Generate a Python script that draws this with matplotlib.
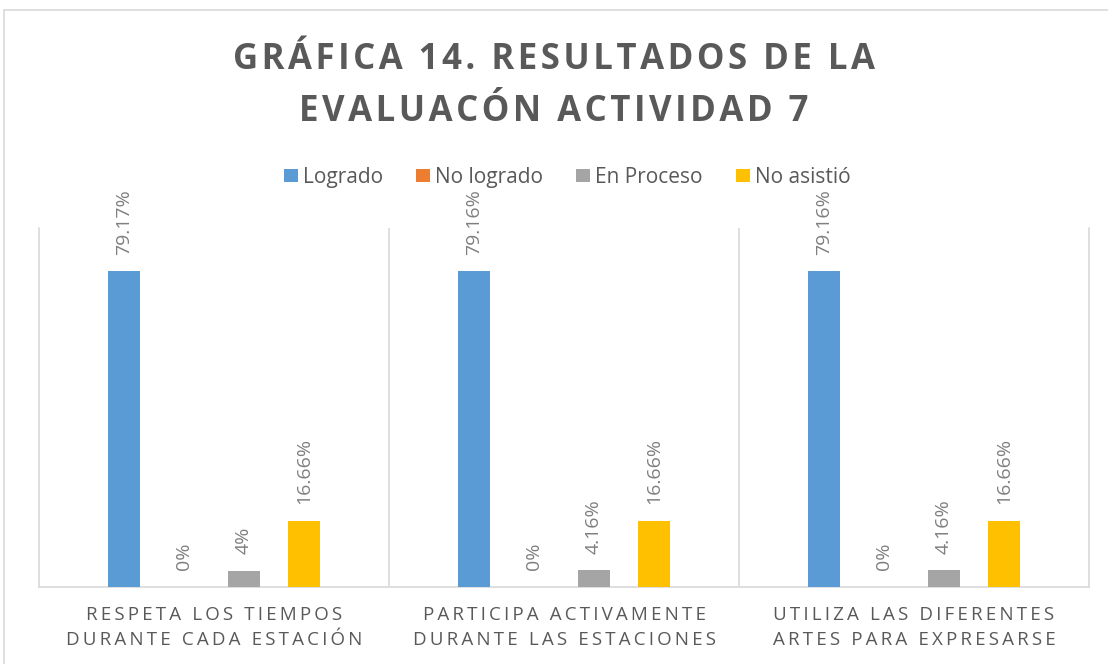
import numpy as np
import matplotlib.pyplot as plt
from matplotlib.patches import Rectangle

# data
categories = ['RESPETA LOS TIEMPOS\nDURANTE CADA ESTACIÓN',
              'PARTICIPA ACTIVAMENTE\nDURANTE LAS ESTACIONES',
              'UTILIZA LAS DIFERENTES\nARTES PARA EXPRESARSE']
series_names = ['Logrado', 'No logrado', 'En Proceso', 'No asistió']
logrado = [79.17, 79.16, 79.16]
no_logrado = [0, 0, 0]
en_proceso = [4, 4.16, 4.16]
no_asistio = [16.66, 16.66, 16.66]
label_logrado = ['79.17%', '79.16%', '79.16%']
label_no_logrado = ['0%', '0%', '0%']
label_en_proceso = ['4%', '4.16%', '4.16%']
label_no_asistio = ['16.66%', '16.66%', '16.66%']

colors = ['#5B9BD5', '#ED7D31', '#A5A5A5', '#FFC000']
FONT = ['Open Sans', 'DejaVu Sans']


# Spread letters out a bit, the original uses character spacing
def spaced(text, sep='\u200a'):
    return '\n'.join(sep.join(line) for line in text.split('\n'))


fig = plt.figure(figsize=(11.08, 6.64), dpi=100)
fig.patches.append(Rectangle((0.004, -0.01), 1.0, 0.995, transform=fig.transFigure,
                             fill=False, edgecolor='#d9d9d9', linewidth=1.2))
ax = fig.add_axes([0.0352, 0.116, 0.9477, 0.5406])

x = np.arange(len(categories))
step = 0.1714
width = 0.0914
all_values = [logrado, no_logrado, en_proceso, no_asistio]
all_labels = [label_logrado, label_no_logrado, label_en_proceso, label_no_asistio]

for i, (vals, labs) in enumerate(zip(all_values, all_labels)):
    pos = x + (i - 1.5) * step
    ax.bar(pos, vals, width, color=colors[i], label=series_names[i], zorder=3)
    for p, v, lab in zip(pos, vals, labs):
        ax.annotate(lab, (p, v), xytext=(0, 12), textcoords='offset points',
                    rotation=90, ha='center', va='bottom', fontsize=14,
                    color='#7f7f7f', family=FONT)

ax.set_xlim(-0.5, 2.5)
ax.set_ylim(0, 90)
ax.set_yticks([])
ax.set_xticks(x)
ax.set_xticklabels([spaced(c, '\u2009') for c in categories], fontsize=13.5,
                   color='#595959', family=FONT, linespacing=1.45)
ax.tick_params(axis='x', length=0, pad=14)
ax.set_xticks([0.5, 1.5], minor=True)
ax.tick_params(axis='x', which='minor', length=0)
ax.grid(which='minor', axis='x', color='#d9d9d9', linewidth=1.2, zorder=0)
for side in ['left', 'right', 'bottom']:
    ax.spines[side].set_color('#d9d9d9')
    ax.spines[side].set_linewidth(1.2)
ax.spines['top'].set_visible(False)

fig.text(0.5, 0.870, spaced('GRÁFICA 14. RESULTADOS DE LA\nEVALUACÓN ACTIVIDAD 7'),
         ha='center', va='center', fontsize=25, fontweight='bold',
         color='#595959', family=FONT, linespacing=1.6)

leg = fig.legend(loc='center', bbox_to_anchor=(0.512, 0.733), ncol=4, frameon=False,
                 handlelength=0.65, handleheight=0.65,
                 handletextpad=0.25, columnspacing=1.6,
                 prop={'family': FONT, 'size': 15})
for t in leg.get_texts():
    t.set_color('#595959')

fig.savefig('out.png', dpi=100)
